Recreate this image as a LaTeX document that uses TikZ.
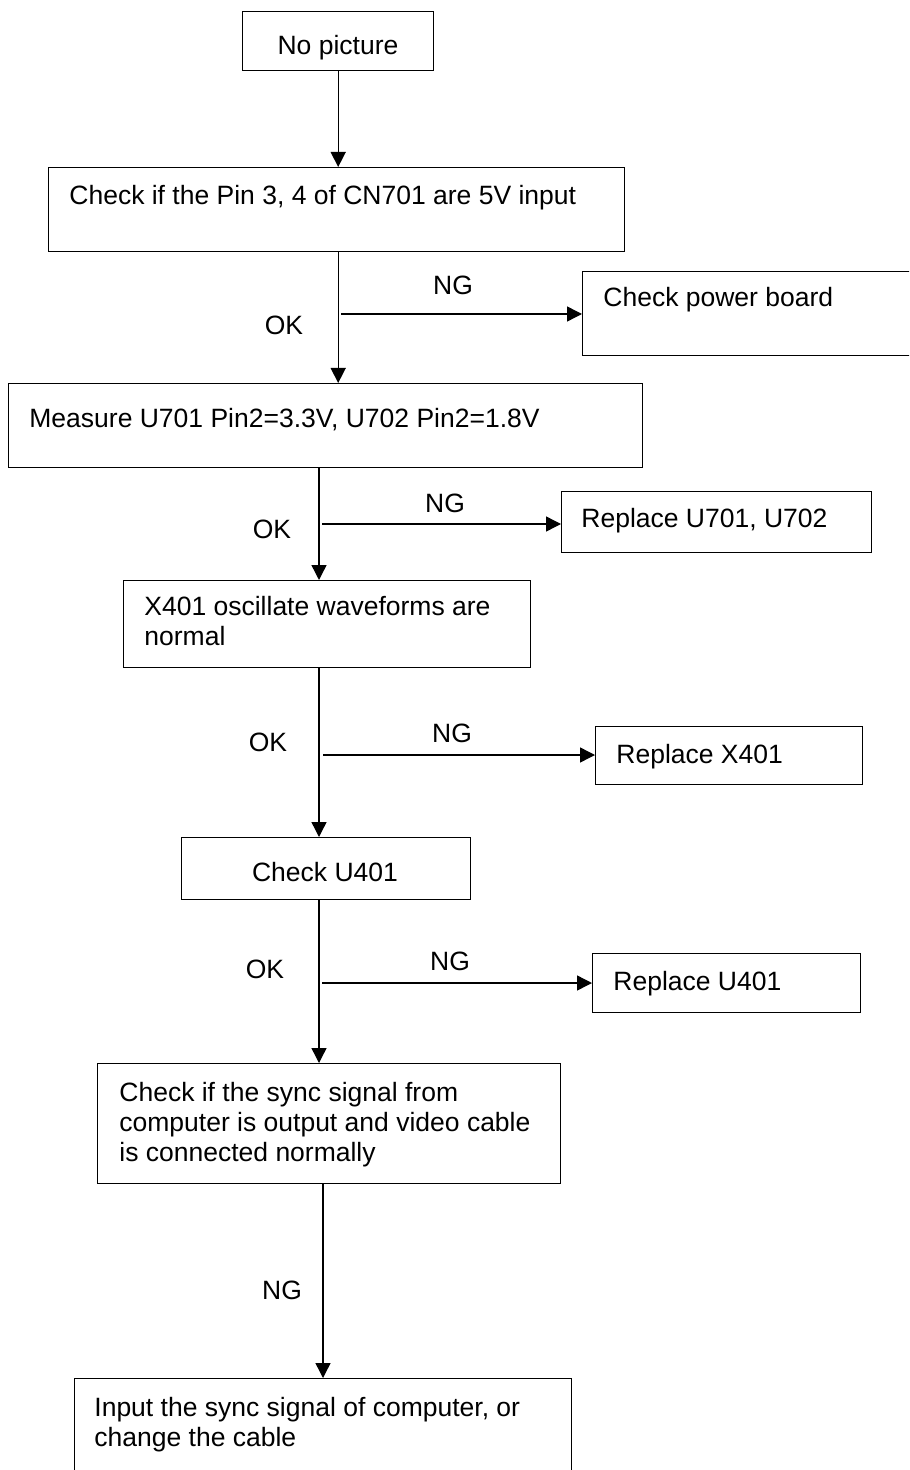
\documentclass[tikz,border=0pt]{standalone}
\usepackage{fontspec}
\setmainfont{Liberation Sans}
\usetikzlibrary{arrows.meta}
\begin{document}
\begin{tikzpicture}[
    x=0.5pt,y=-0.5pt,
    font=\fontsize{13.25pt}{15pt}\selectfont,
    box/.style={draw,line width=0.7pt,inner sep=0pt,anchor=north west},
    txt/.style={inner sep=0pt,align=left,anchor=north west},
    lbl/.style={inner sep=0pt},
    arr/.style={-{Triangle[length=7.5pt,width=7.5pt]},line width=0.7pt}
]
\useasboundingbox (0,0) rectangle (909,1470);
\clip (0,0) rectangle (909,1470);
\node[box,minimum width=95.5pt,minimum height=29.5pt] (start) at (242,11) {};
\node[lbl,anchor=base] (startT) at (338,55) {No picture};
\node[box,minimum width=288pt,minimum height=42pt] (pins) at (48,167) {};
\node[txt] (pinsT) at (69,185) {Check if the Pin 3, 4 of CN701 are 5V input};
\node[box,minimum width=166.5pt,minimum height=42pt] (pw) at (582,271) {};
\node[txt] (pwT) at (603,287) {Check power board};
\node[box,minimum width=317pt,minimum height=42pt] (meas) at (8,383) {};
\node[txt] (measT) at (29,408) {Measure U701 Pin2=3.3V, U702 Pin2=1.8V};
\node[box,minimum width=155pt,minimum height=30.5pt] (u701) at (561,491) {};
\node[txt] (u701T) at (581,508) {Replace U701, U702};
\node[box,minimum width=203.5pt,minimum height=43.5pt] (osc) at (123,580) {};
\node[txt] (oscT) at (144,596) {X401 oscillate waveforms are\\normal};
\node[box,minimum width=133.5pt,minimum height=29pt] (x401) at (595,726) {};
\node[txt] (x401T) at (616,744) {Replace X401};
\node[box,minimum width=144.5pt,minimum height=31pt] (u401) at (181,837) {};
\node[lbl,anchor=base] (u401T) at (325,881) {Check U401};
\node[box,minimum width=134pt,minimum height=29.5pt] (u401r) at (592,953) {};
\node[txt] (u401rT) at (613,971) {Replace U401};
\node[box,minimum width=231.5pt,minimum height=60pt] (sync) at (97,1063) {};
\node[txt] (syncT) at (119,1082) {Check if the sync signal from\\computer is output and video cable\\is connected normally};
\node[box,minimum width=248.5pt,minimum height=51pt] (input) at (74,1378) {};
\node[txt] (inputT) at (94,1397) {Input the sync signal of computer, or\\change the cable};
\coordinate (spine) at (319,0);
\coordinate (spine2) at (323,0);
\coordinate (f1) at (341,314);
\coordinate (f2) at (322,524);
\coordinate (f3) at (323,755);
\coordinate (f4) at (322,983);
\node[lbl] (ng1) at (453,285) {NG};
\node[lbl] (ok1) at (284,325) {OK};
\node[lbl] (ng2) at (445,503) {NG};
\node[lbl] (ok2) at (272,529) {OK};
\node[lbl] (ng3) at (452,733) {NG};
\node[lbl] (ok3) at (268,742) {OK};
\node[lbl] (ng4) at (450,961) {NG};
\node[lbl] (ok4) at (265,969) {OK};
\node[lbl] (ng5) at (282,1290) {NG};
\draw[arr] (start.south) -- (start.south |- pins.north);
\draw[arr] (pins.south -| start.south) -- (meas.north -| start.south);
\draw[arr] (meas.south -| spine) -- (osc.north -| spine);
\draw[arr] (osc.south -| spine) -- (u401.north -| spine);
\draw[arr] (u401.south -| spine) -- (sync.north -| spine);
\draw[arr] (sync.south -| spine2) -- (input.north -| spine2);
\draw[arr] (f1) -- (f1 -| pw.west);
\draw[arr] (f2) -- (f2 -| u701.west);
\draw[arr] (f3) -- (f3 -| x401.west);
\draw[arr] (f4) -- (f4 -| u401r.west);
\end{tikzpicture}
\end{document}
